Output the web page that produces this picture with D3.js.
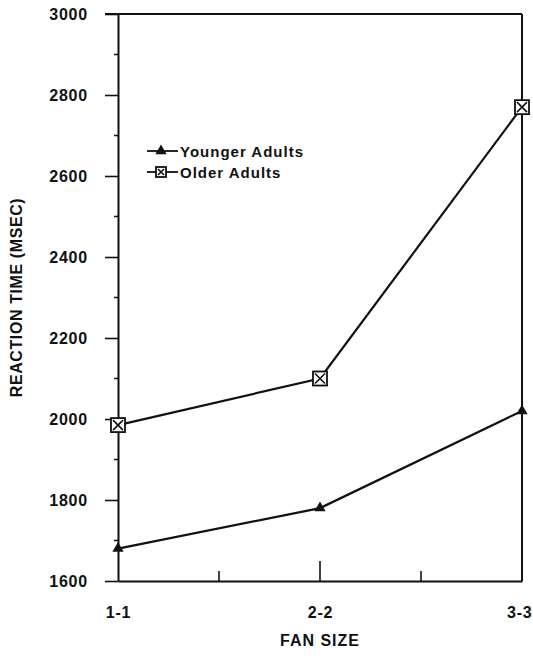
<!DOCTYPE html>
<html>
<head>
<meta charset="utf-8">
<script src="https://cdn.jsdelivr.net/npm/d3@7"></script>
<style>
  html, body { margin: 0; padding: 0; background: #fff; }
  svg { display: block; }
  text { font-family: "Liberation Sans", Arial, sans-serif; font-weight: bold; fill: #111; }
</style>
</head>
<body>
<svg id="chart" width="533" height="659"></svg>
<script>
// Fan-size conditions on the x axis
const fanSizes = ["1-1", "2-2", "3-3"];
// Mean reaction times (ms)
const youngerRT = [1680, 1780, 2020];
const olderRT = [1985, 2100, 2770];
// Series names for the legend
const seriesNames = ["Younger Adults", "Older Adults"];
// Y-axis labelled ticks
const yTicks = [1600, 1800, 2000, 2200, 2400, 2600, 2800, 3000];
const yMinorTicks = [1700, 1900, 2100, 2300, 2500, 2700, 2900];

const svg = d3.select("#chart");
const plotLeft = 118, plotRight = 522, plotTop = 14, plotBottom = 581;

const x = d3.scalePoint().domain(fanSizes).range([plotLeft, plotRight]);
const y = d3.scaleLinear().domain([1600, 3000]).range([plotBottom, plotTop]);

const ink = "#111";

// Frame: top and right edges
svg.append("line").attr("x1", plotLeft - 13).attr("x2", plotRight).attr("y1", y(3000)).attr("y2", y(3000))
  .attr("stroke", ink).attr("stroke-width", 2);
svg.append("line").attr("x1", plotRight).attr("x2", plotRight).attr("y1", y(3000)).attr("y2", y(1600))
  .attr("stroke", ink).attr("stroke-width", 2);

// Y axis with major ticks pointing outward
const yAxis = svg.append("g").attr("transform", `translate(${plotLeft},0)`)
  .call(d3.axisLeft(y).tickValues(yTicks).tickSize(13).tickSizeOuter(0).tickPadding(17).tickFormat(d3.format("d")));
yAxis.select(".domain").attr("stroke", ink).attr("stroke-width", 2);
yAxis.selectAll(".tick line").attr("stroke", ink).attr("stroke-width", 1.6);
yAxis.selectAll(".tick text").attr("font-size", 16).attr("font-family", "Liberation Sans, Arial, sans-serif")
  .attr("font-weight", "bold").attr("letter-spacing", 0.8).attr("fill", ink).attr("dy", "0.36em");

// Minor y ticks
svg.append("g").selectAll("line").data(yMinorTicks).join("line")
  .attr("x1", plotLeft - 4).attr("x2", plotLeft).attr("y1", d => y(d)).attr("y2", d => y(d))
  .attr("stroke", ink).attr("stroke-width", 1.5);

// X axis with inward ticks
const xAxis = svg.append("g").attr("transform", `translate(0,${plotBottom})`)
  .call(d3.axisBottom(x).tickSize(0).tickSizeOuter(0).tickPadding(26));
xAxis.select(".domain").attr("stroke", ink).attr("stroke-width", 2);
xAxis.selectAll(".tick text").attr("font-size", 16).attr("font-family", "Liberation Sans, Arial, sans-serif")
  .attr("font-weight", "bold").attr("letter-spacing", 0.8).attr("fill", ink);
// Keep the last category label inside the page edge
xAxis.selectAll(".tick text").filter(d => d === fanSizes[fanSizes.length - 1])
  .attr("text-anchor", "end").attr("x", 533 - plotRight - 1);

// Inward major tick at the middle category and minor ticks between categories
const step = x.step();
svg.append("line").attr("x1", x("2-2")).attr("x2", x("2-2")).attr("y1", plotBottom).attr("y2", plotBottom - 20)
  .attr("stroke", ink).attr("stroke-width", 1.6);
svg.append("g").selectAll("line").data(fanSizes.slice(0, -1)).join("line")
  .attr("x1", d => x(d) + step / 2).attr("x2", d => x(d) + step / 2)
  .attr("y1", plotBottom).attr("y2", plotBottom - 10)
  .attr("stroke", ink).attr("stroke-width", 1.6);

// Axis titles
svg.append("text").attr("x", (plotLeft + plotRight) / 2).attr("y", 646).attr("text-anchor", "middle")
  .attr("font-size", 16).attr("letter-spacing", 1).text("FAN SIZE");
svg.append("text").attr("transform", `translate(22,${(plotTop + plotBottom) / 2}) rotate(-90)`)
  .attr("text-anchor", "middle").attr("font-size", 16).attr("letter-spacing", 0.6)
  .text("REACTION TIME (MSEC)");

// Lines
const line = d3.line().x((d, i) => x(fanSizes[i])).y(d => y(d));
svg.append("path").datum(youngerRT).attr("d", line).attr("fill", "none").attr("stroke", ink).attr("stroke-width", 2.2);
svg.append("path").datum(olderRT).attr("d", line).attr("fill", "none").attr("stroke", ink).attr("stroke-width", 2.2);

// Markers
const tri = d3.symbol().type(d3.symbolTriangle).size(55);
function drawTriangle(g, cx, cy) {
  g.append("path").attr("d", tri()).attr("transform", `translate(${cx},${cy})`).attr("fill", ink);
}
function drawBox(g, cx, cy, s) {
  const h = s / 2;
  g.append("rect").attr("x", cx - h).attr("y", cy - h).attr("width", s).attr("height", s)
    .attr("fill", "#fff").attr("stroke", ink).attr("stroke-width", 1.8);
  g.append("path").attr("d", `M${cx - h + 2},${cy - h + 2}L${cx + h - 2},${cy + h - 2}M${cx + h - 2},${cy - h + 2}L${cx - h + 2},${cy + h - 2}`)
    .attr("stroke", ink).attr("stroke-width", 1.6);
}
const marks = svg.append("g");
youngerRT.forEach((v, i) => drawTriangle(marks, x(fanSizes[i]), y(v)));
olderRT.forEach((v, i) => drawBox(marks, x(fanSizes[i]), y(v), 14));

// Legend
const legend = svg.append("g");
const lx0 = 147, lx1 = 178, lmid = 161;
[151, 172].forEach((ly, i) => {
  legend.append("line").attr("x1", lx0).attr("x2", lx1).attr("y1", ly).attr("y2", ly)
    .attr("stroke", ink).attr("stroke-width", 1.8);
  if (i === 0) drawTriangle(legend, lmid, ly);
  else drawBox(legend, lmid, ly, 10);
  legend.append("text").attr("x", 180).attr("y", ly + 5.5).attr("font-size", 15)
    .attr("letter-spacing", 1).text(seriesNames[i]);
});
</script>
</body>
</html>
